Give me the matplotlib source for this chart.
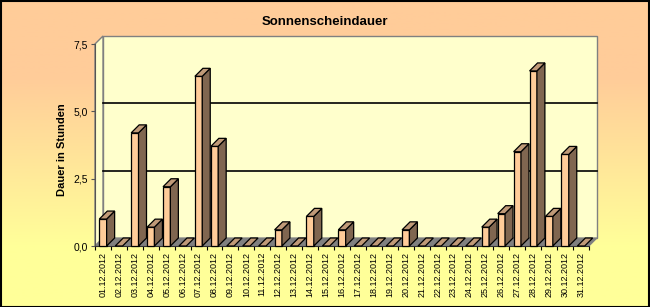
import numpy as np
import matplotlib
matplotlib.use('Agg')
import matplotlib.pyplot as plt
from matplotlib.patches import Polygon, Rectangle
from matplotlib.colors import LinearSegmentedColormap

plt.rcParams['font.family'] = ['Liberation Sans', 'DejaVu Sans']

# data: daily sunshine hours, December 2012
days = [f"{d:02d}.12.2012" for d in range(1, 32)]
hours = [1.0, 0.0, 4.2, 0.7, 2.2, 0.0, 6.3, 3.7, 0.0, 0.0,
         0.0, 0.6, 0.0, 1.1, 0.0, 0.6, 0.0, 0.0, 0.0, 0.6,
         0.0, 0.0, 0.0, 0.0, 0.7, 1.2, 3.5, 6.5, 1.1, 3.4, 0.0]
yticks = [0.0, 2.5, 5.0, 7.5]
ytick_labels = ["0,0", "2,5", "5,0", "7,5"]

# colours
FRONT = '#FFCC99'
SIDE = '#806650'
TOP = '#C09A78'
WALL = '#FFFFCC'
FLOOR = '#808080'
EDGE = '#808080'

fig = plt.figure(figsize=(6.5, 3.07), dpi=100)

# gradient background (peach top -> yellow bottom)
bg = fig.add_axes([0, 0, 1, 1], zorder=-10)
cmap = LinearSegmentedColormap.from_list('bg', [(0, '#FFFF99'), (0.2, '#FFFF99'),
                                                (0.75, '#FFCC99'), (1, '#FFCC99')])
bg.imshow(np.linspace(0, 1, 256).reshape(-1, 1), aspect='auto', cmap=cmap,
          origin='lower', extent=[0, 1, 0, 1])
bg.set_axis_off()
fig.patches.append(Rectangle((0.5 / 650, 0.5 / 307), 1 - 1.5 / 650, 1 - 1.5 / 307,
                             transform=fig.transFigure, fill=False, ec='black', lw=1.5))

ax = fig.add_axes([95 / 650, 61 / 307, 494 / 650, 202 / 307])
ax.patch.set_alpha(0)
n = len(hours)
xmin, xmax = -0.5, n - 0.5
ax.set_xlim(xmin, xmax)
ax.set_ylim(0, 7.5)

# depth offset of the 3D look (about 8 px right, 8 px up)
dx = 8 / (494 / n)
dy = 8 / (202 / 7.5)
hw = 0.23  # half width of a bar front

# walls
ax.add_patch(Polygon([(xmin + dx, dy), (xmax + dx, dy), (xmax + dx, 7.5 + dy), (xmin + dx, 7.5 + dy)],
                     closed=True, fc=WALL, ec=EDGE, lw=1, clip_on=False, zorder=1))
ax.add_patch(Polygon([(xmin, 0), (xmin + dx, dy), (xmin + dx, 7.5 + dy), (xmin, 7.5)],
                     closed=True, fc=WALL, ec=EDGE, lw=1, clip_on=False, zorder=1))
ax.add_patch(Polygon([(xmin, 0), (xmax, 0), (xmax + dx, dy), (xmin + dx, dy)],
                     closed=True, fc=FLOOR, ec=EDGE, lw=0.8, clip_on=False, zorder=1))
for v in yticks[1:3]:
    ax.plot([xmin + dx, xmax + dx], [v + dy, v + dy], color='black', lw=1.2,
            clip_on=False, zorder=2)

# bars
for i, h in enumerate(hours):
    x0, x1 = i - hw, i + hw
    if h > 0:
        ax.add_patch(Rectangle((x0, 0), x1 - x0, h, fc=FRONT, ec='black', lw=0.9,
                               clip_on=False, zorder=3))
        ax.add_patch(Polygon([(x1, 0), (x1 + dx, dy), (x1 + dx, h + dy), (x1, h)],
                             closed=True, fc=SIDE, ec='black', lw=0.9, clip_on=False, zorder=3))
    ax.add_patch(Polygon([(x0, h), (x1, h), (x1 + dx, h + dy), (x0 + dx, h + dy)],
                         closed=True, fc=TOP, ec='black', lw=0.9, clip_on=False, zorder=3))

# axes
for s in ['top', 'right']:
    ax.spines[s].set_visible(False)
ax.spines['left'].set_color('#555555')
ax.spines['bottom'].set_color('#333333')
ax.set_yticks(yticks)
ax.set_yticklabels(ytick_labels, fontsize=7.5)
ax.tick_params(axis='y', length=3, width=0.8, color='#555555', pad=2)
ax.set_xticks(range(n))
ax.set_xticklabels(days, rotation=90, fontsize=6.5)
ax.set_xticks(np.arange(n + 1) - 0.5, minor=True)
ax.tick_params(axis='x', which='major', length=0, pad=4)
ax.tick_params(axis='x', which='minor', length=3, width=0.8, color='black')

fig.text(0.5, 1 - 22 / 307, 'Sonnenscheindauer', ha='center', va='center',
         fontsize=9.5, fontweight='bold')
fig.text(62 / 650, 1 - 150 / 307, 'Dauer in Stunden', ha='center', va='center',
         rotation=90, fontsize=8, fontweight='bold')

fig.savefig('out.png', dpi=100)
